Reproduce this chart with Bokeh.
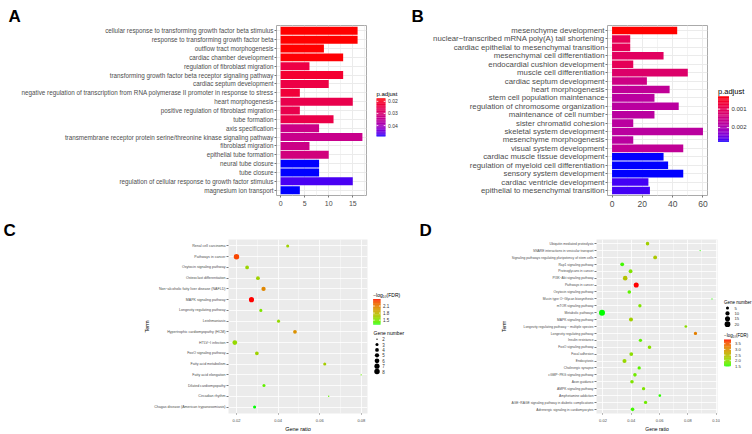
import numpy as np
from bokeh.plotting import figure
from bokeh.models import (FactorRange, Range1d, LinearColorMapper, FixedTicker,
                          Label, ColumnDataSource, PrintfTickFormatter)
from bokeh.layouts import row, column
from bokeh.embed import file_html
from bokeh.resources import INLINE
from bokeh.core.properties import value

FONT = "Liberation Sans"
TXT = "#4D4D4D"

# ---------------- data ----------------
a_terms = [
    "cellular response to transforming growth factor beta stimulus",
    "response to transforming growth factor beta",
    "outflow tract morphogenesis",
    "cardiac chamber development",
    "regulation of fibroblast migration",
    "transforming growth factor beta receptor signaling pathway",
    "cardiac septum development",
    "negative regulation of transcription from RNA polymerase II promoter in response to stress",
    "heart morphogenesis",
    "positive regulation of fibroblast migration",
    "tube formation",
    "axis specification",
    "transmembrane receptor protein serine/threonine kinase signaling pathway",
    "fibroblast migration",
    "epithelial tube formation",
    "neural tube closure",
    "tube closure",
    "regulation of cellular response to growth factor stimulus",
    "magnesium ion transport",
]
a_count = [16, 16, 9, 13, 6, 13, 10, 4, 15, 4, 11, 8, 17, 6, 10, 8, 8, 15, 4]
a_padj = [0.0175, 0.0175, 0.0176, 0.0178, 0.0240, 0.0215, 0.0240, 0.0225, 0.0250, 0.0250,
          0.0245, 0.0330, 0.0335, 0.0330, 0.0315, 0.0490, 0.0490, 0.0475, 0.0490]
a_ticks = [0, 5, 10, 15]
a_minor = [2.5, 7.5, 12.5, 17.5]
a_cbar_ticks = [0.02, 0.03, 0.04]

b_terms = [
    "mesenchyme development",
    "nuclear\u2212transcribed mRNA poly(A) tail shortening",
    "cardiac epithelial to mesenchymal transition",
    "mesenchymal cell differentiation",
    "endocardial cushion development",
    "muscle cell differentiation",
    "cardiac septum development",
    "heart morphogenesis",
    "stem cell population maintenance",
    "regulation of chromosome organization",
    "maintenance of cell number",
    "sister chromatid cohesion",
    "skeletal system development",
    "mesenchyme morphogenesis",
    "visual system development",
    "cardiac muscle tissue development",
    "regulation of myeloid cell differentiation",
    "sensory system development",
    "cardiac ventricle development",
    "epithelial to mesenchymal transition",
]
b_count = [43, 12, 12, 34, 14, 50, 23, 38, 28, 44, 28, 14, 60, 14, 47, 34, 37, 47, 24, 25]
b_padj = [0.0003, 0.0010, 0.0010, 0.0011, 0.0010, 0.0012, 0.0015, 0.0017, 0.0018, 0.0018,
          0.0018, 0.0018, 0.0018, 0.0018, 0.0017, 0.0028, 0.0028, 0.0028, 0.0027, 0.0027]
b_ticks = [0, 20, 40, 60]
b_minor = [10, 30, 50]
b_cbar_ticks = [0.001, 0.002]

c_terms = [
    "Renal cell carcinoma",
    "Pathways in cancer",
    "Oxytocin signaling pathway",
    "Osteoclast differentiation",
    "Non\u2212alcoholic fatty liver disease (NAFLD)",
    "MAPK signaling pathway",
    "Longevity regulating pathway",
    "Leishmaniasis",
    "Hypertrophic cardiomyopathy (HCM)",
    "HTLV\u2212I infection",
    "FoxO signaling pathway",
    "Fatty acid metabolism",
    "Fatty acid elongation",
    "Dilated cardiomyopathy",
    "Circadian rhythm",
    "Chagas disease (American trypanosomiasis)",
]
c_ratio = [0.0446, 0.0200, 0.0251, 0.0303, 0.0330, 0.0272, 0.0317, 0.0402,
           0.0481, 0.0192, 0.0298, 0.0624, 0.0799, 0.0332, 0.0643, 0.0287]
c_count = [3, 8, 4, 4, 5, 7, 3, 3, 4, 6, 4, 3, 2, 3, 2, 3]
c_logfdr = [1.62, 2.30, 1.60, 1.62, 2.05, 2.40, 1.50, 1.58, 2.00, 1.58, 1.62, 1.65,
            1.45, 1.42, 1.42, 1.32]
c_ticks = [0.02, 0.04, 0.06, 0.08]
c_minor = [0.03, 0.05, 0.07]
c_cbar_ticks = [1.5, 1.8, 2.1]
c_size_legend = [2, 3, 4, 5, 6, 7, 8]

d_terms = [
    "Ubiquitin mediated proteolysis",
    "SNARE interactions in vesicular transport",
    "Signaling pathways regulating pluripotency of stem cells",
    "Rap1 signaling pathway",
    "Proteoglycans in cancer",
    "PI3K\u2212Akt signaling pathway",
    "Pathways in cancer",
    "Oxytocin signaling pathway",
    "Mucin type O\u2212Glycan biosynthesis",
    "mTOR signaling pathway",
    "Metabolic pathways",
    "MAPK signaling pathway",
    "Longevity regulating pathway \u2212 multiple species",
    "Longevity regulating pathway",
    "Insulin resistance",
    "FoxO signaling pathway",
    "Focal adhesion",
    "Endocytosis",
    "Cholinergic synapse",
    "cGMP\u2212PKG signaling pathway",
    "Axon guidance",
    "AMPK signaling pathway",
    "Amphetamine addiction",
    "AGE\u2212RAGE signaling pathway in diabetic complications",
    "Adrenergic signaling in cardiomyocytes",
]
d_ratio = [0.0515, 0.0887, 0.0569, 0.0336, 0.0395, 0.0357, 0.0435, 0.0386, 0.0971,
           0.0461, 0.0193, 0.0398, 0.0786, 0.0854, 0.0465, 0.0529, 0.0400, 0.0352,
           0.0456, 0.0426, 0.0405, 0.0487, 0.0602, 0.0501, 0.0409]
d_count = [7, 2, 8, 8, 8, 12, 15, 7, 2, 6, 22, 9, 4, 6, 6, 7, 8, 9, 6, 7, 7, 6, 4, 6, 7]
d_logfdr = [2.2, 1.55, 2.3, 1.6, 1.9, 2.4, 3.88, 1.7, 1.55, 1.9, 1.5, 2.2, 2.0, 3.2, 1.7,
            2.0, 2.0, 2.1, 1.7, 1.8, 1.9, 1.9, 1.55, 1.8, 1.6]
d_ticks = [0.02, 0.04, 0.06, 0.08, 0.10]
d_minor = [0.03, 0.05, 0.07, 0.09]
d_cbar_ticks = [1.5, 2.0, 2.5, 3.0, 3.5]
d_size_legend = [5, 10, 15, 20]

# ---------------- colour ramps (CIELAB interpolation, like ggplot) ----------------
_M = np.array([[0.4124564, 0.3575761, 0.1804375],
               [0.2126729, 0.7151522, 0.0721750],
               [0.0193339, 0.1191920, 0.9503041]])
_W = np.array([0.95047, 1.0, 1.08883])


def _to_lab(h):
    rgb = np.array([int(h[i:i + 2], 16) for i in (1, 3, 5)]) / 255.0
    lin = np.where(rgb <= 0.04045, rgb / 12.92, ((rgb + 0.055) / 1.055) ** 2.4)
    xyz = _M @ lin / _W
    d = 6 / 29
    f = np.where(xyz > d ** 3, np.cbrt(xyz), xyz / (3 * d * d) + 4 / 29)
    return np.array([116 * f[1] - 16, 500 * (f[0] - f[1]), 200 * (f[1] - f[2])])


def _from_lab(lab):
    L, a, b = lab
    fy = (L + 16) / 116
    f = np.array([fy + a / 500, fy, fy - b / 200])
    d = 6 / 29
    xyz = np.where(f > d, f ** 3, 3 * d * d * (f - 4 / 29)) * _W
    lin = np.clip(np.linalg.inv(_M) @ xyz, 0, 1)
    rgb = np.where(lin <= 0.0031308, 12.92 * lin, 1.055 * lin ** (1 / 2.4) - 0.055)
    rgb = np.clip(rgb, 0, 1)
    return "#%02x%02x%02x" % tuple(int(round(v * 255)) for v in rgb)


def lab_ramp(c0, c1, n=256):
    l0, l1 = _to_lab(c0), _to_lab(c1)
    return [_from_lab(l0 + (l1 - l0) * t) for t in np.linspace(0, 1, n)]


RB = lab_ramp("#FF0000", "#0000FF")
GR = lab_ramp("#00FF00", "#FF0000")


def axis_style(ax, size, tick_out=2):
    ax.major_label_text_font = FONT
    ax.major_label_text_font_size = size
    ax.major_label_text_color = TXT
    ax.axis_line_color = None
    ax.major_tick_line_color = "#555555"
    ax.major_tick_line_width = 0.8
    ax.major_tick_in = 0
    ax.major_tick_out = tick_out
    ax.minor_tick_line_color = None
    ax.major_label_standoff = 1
    ax.axis_label_text_font = FONT
    ax.axis_label_text_font_style = "normal"
    ax.axis_label_text_color = "black"
    ax.axis_label_standoff = 1


def letter(p, text, offset):
    # panel letter drawn as the figure title, shifted left from the frame edge
    p.title.text = text
    p.title.text_font = FONT
    p.title.text_font_size = "17px"
    p.title.text_font_style = "bold"
    p.title.text_color = "black"
    p.title.align = "left"
    p.title.offset = offset
    p.title.standoff = 0


def bar_panel(terms, counts, padj, ticks, minor, width, height, bl, br, bt, bb, lab_size, tick_size):
    src = ColumnDataSource(dict(term=terms, count=counts, padj=padj))
    mapper = LinearColorMapper(palette=RB, low=min(padj), high=max(padj))
    top = max(counts)
    p = figure(width=width, height=height,
               y_range=FactorRange(factors=terms[::-1], range_padding=0.2 / len(terms)),
               x_range=Range1d(-0.05 * top, 1.05 * top), output_backend="svg",
               toolbar_location=None, min_border_left=bl, min_border_right=br,
               min_border_top=bt, min_border_bottom=bb)
    p.hbar(y="term", left=0, right="count", height=0.9, source=src,
           fill_color={"field": "padj", "transform": mapper}, line_color=None)
    p.xaxis.ticker = FixedTicker(ticks=ticks, minor_ticks=minor)
    axis_style(p.xaxis[0], tick_size)
    axis_style(p.yaxis[0], lab_size)
    p.xgrid.grid_line_color = "#EBEBEB"
    p.xgrid.minor_grid_line_color = "#F3F3F3"
    p.ygrid.grid_line_color = "#EBEBEB"
    p.outline_line_color = "#AAAAAA"
    p.outline_line_width = 1
    p.background_fill_color = "white"
    return p, mapper


def dot_panel(terms, ratio, count, lf, ticks, minor, width, height, bl, br, bt, bb,
              lab_size, tick_size, title_size, smin, smax):
    lo, hi = min(ratio), max(ratio)
    pad = 0.05 * (hi - lo)
    mapper = LinearColorMapper(palette=GR, low=min(lf), high=max(lf))
    nlo, nhi = min(count), max(count)

    def size_of(n):
        return smin + (smax - smin) * np.sqrt((n - nlo) / (nhi - nlo))

    src = ColumnDataSource(dict(term=terms, ratio=ratio, n=count, lf=lf,
                                sz=[size_of(n) for n in count]))
    p = figure(width=width, height=height,
               y_range=FactorRange(factors=terms[::-1], range_padding=0.2 / len(terms)),
               x_range=Range1d(lo - pad, hi + pad), output_backend="svg",
               toolbar_location=None, min_border_left=bl, min_border_right=br,
               min_border_top=bt, min_border_bottom=bb)
    p.background_fill_color = "#EBEBEB"
    p.outline_line_color = None
    p.xaxis.ticker = FixedTicker(ticks=ticks, minor_ticks=minor)
    p.xaxis.formatter = PrintfTickFormatter(format="%.2f")
    for g in (p.xgrid, p.ygrid):
        g.grid_line_color = "white"
        g.grid_line_width = 0.8
    p.xgrid.minor_grid_line_color = "white"
    p.xgrid.minor_grid_line_width = 0.4
    p.scatter("ratio", "term", size="sz", source=src,
              fill_color={"field": "lf", "transform": mapper}, line_color=None)
    axis_style(p.xaxis[0], tick_size, 1)
    axis_style(p.yaxis[0], lab_size)
    p.xaxis.axis_label = "Gene ratio"
    p.yaxis.axis_label = "Term"
    p.xaxis.axis_label_text_font_size = title_size
    p.yaxis.axis_label_text_font_size = title_size
    return p, mapper, size_of


def legend_fig(x0, x1, y0, y1):
    # a small white canvas whose data units are the page pixels (no title panel)
    p = figure(width=x1 - x0, height=y1 - y0, x_range=Range1d(x0, x1), y_range=Range1d(y1, y0),
               x_axis_type=None, y_axis_type=None, min_border=0, toolbar_location=None,
               title=None, title_location=None, output_backend="svg")
    p.outline_line_color = None
    return p


def txt(p, x, y, text, size, color="black"):
    p.add_layout(Label(x=x, y=y, text=text, text_font=FONT, text_font_size=size,
                       text_color=color, text_baseline="middle"))


def colourbar(p, mapper, ticks, x0, w, ytop, h, low_on_top, fmt, lab_size, title, title_size, lab_dx=2.5):
    lo, hi = mapper.low, mapper.high
    n = 60
    fr = np.linspace(0, 1, n + 1)
    mid = (fr[:-1] + fr[1:]) / 2
    vals = (lo + mid * (hi - lo)) if low_on_top else (hi - mid * (hi - lo))
    src = ColumnDataSource(dict(v=list(vals), t=list(ytop + fr[:-1] * h),
                                b=list(np.minimum(ytop + fr[1:] * h + 0.3, ytop + h))))
    p.quad(left=x0, right=x0 + w, top="t", bottom="b",
           fill_color={"field": "v", "transform": mapper}, line_color=None, source=src)
    tf = [((t - lo) / (hi - lo)) if low_on_top else ((hi - t) / (hi - lo)) for t in ticks]
    ty = [ytop + f * h for f in tf]
    tw = w * 0.2
    p.segment(x0=[x0] * len(ty), x1=[x0 + tw] * len(ty), y0=ty, y1=ty, line_color="white", line_width=0.8)
    p.segment(x0=[x0 + w - tw] * len(ty), x1=[x0 + w] * len(ty), y0=ty, y1=ty, line_color="white", line_width=0.8)
    p.text(x=[x0 + w + lab_dx] * len(ty), y=ty, text=[fmt % t for t in ticks], text_font=value(FONT),
           text_font_size=lab_size, text_baseline="middle", text_color="#333333")
    txt(p, x0, ytop - 5.5, title, title_size)


def size_legend(p, size_of, values, x, ytop, step, lab_size, title, title_ys, title_size, lab_dx=5.2):
    ys = [ytop + step * i for i in range(len(values))]
    p.scatter([x] * len(values), ys, size=[size_of(v) for v in values], color="black", line_color=None)
    p.text([x + lab_dx] * len(values), ys, text=[str(v) for v in values], text_font=value(FONT),
           text_font_size=lab_size, text_baseline="middle", text_color="#333333")
    txt(p, x - 3.5, title_ys, title, title_size)


# ---------------- panel A ----------------
pA, mA = bar_panel(a_terms, a_count, a_padj, a_ticks, a_minor, 372, 210, 276, 6, 22, 13, "6.3px", "7px")
letter(pA, "A", -268)
lA = legend_fig(372, 400, 0, 210)
colourbar(lA, mA, a_cbar_ticks, 376, 9, 90, 47, True, "%.2f", "5px", "p.adjust", "6px")

# ---------------- panel B ----------------
pB, mB = bar_panel(b_terms, b_count, b_padj, b_ticks, b_minor, 312, 210, 207, 5, 25, 15, "7.8px", "8.5px")
letter(pB, "B", -196)
lB = legend_fig(712, 752, 0, 210)
colourbar(lB, mB, b_cbar_ticks, 717.5, 11, 87.5, 56.5, True, "%.3f", "6px", "p.adjust", "7.5px")

# ---------------- panel C ----------------
pC, mC, c_size = dot_panel(c_terms, c_ratio, c_count, c_logfdr, c_ticks, c_minor, 370, 224,
                           228, 3, 28, 14, "3.6px", "4px", "5.5px", 1.4, 5.5)
letter(pC, "C", -225)
lC = legend_fig(370, 410, 210, 434)
colourbar(lC, mC, c_cbar_ticks, 372.7, 7.3, 286.5, 32.8, False, "%.1f", "4.5px",
          "\u2212log\u2081\u2080(FDR)", "5px")
size_legend(lC, c_size, c_size_legend, 376.5, 338.3, 6.95, "4.5px", "Gene number", 330.7, "5px")

# ---------------- panel D ----------------
pD, mD, d_size = dot_panel(d_terms, d_ratio, d_count, d_logfdr, d_ticks, d_minor, 310, 224,
                           186, 3, 29, 14, "3.3px", "4px", "5px", 1.2, 6.0)
letter(pD, "D", -177)
lD = legend_fig(720, 752, 210, 434)
size_legend(lD, d_size, d_size_legend, 727, 298.3, 6.9, "4.2px", "Gene number", 291, "4.5px", 7)
colourbar(lD, mD, d_cbar_ticks, 723.5, 7, 338.7, 34.6, False, "%.1f", "4.2px",
          "\u2212log\u2081\u2080(FDR)", "4.5px", 4)

layout = column(row(pA, lA, pB, lB), row(pC, lC, pD, lD))

open("out.html", "w").write(file_html(layout, INLINE))
